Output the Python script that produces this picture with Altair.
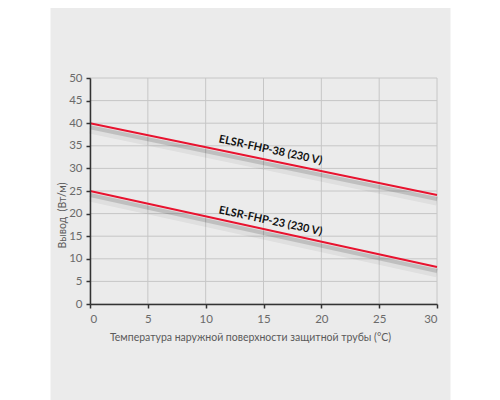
"""Heat output of ELSR-FHP cables vs pipe surface temperature."""

import altair as alt
import pandas as pd

# data
temperature = [0, 30]
output_38 = [40, 24.1]
output_23 = [25, 8.2]
series_names = ['ELSR-FHP-38 (230 V)', 'ELSR-FHP-23 (230 V)']
label_x = [15.6, 15.6]
label_y = [34.0, 18.3]
x_ticks = [0, 5, 10, 15, 20, 25, 30]
y_ticks = [0, 5, 10, 15, 20, 25, 30, 35, 40, 45, 50]

FONT = 'Lato'
RED = '#e8132f'

lines = pd.DataFrame({
    'temp': temperature * 2,
    'watts': output_38 + output_23,
    'series': [series_names[0]] * 2 + [series_names[1]] * 2,
})
labels = pd.DataFrame({'temp': label_x, 'watts': label_y, 'name': series_names})
grid_x = pd.DataFrame({'temp': x_ticks})
grid_y = pd.DataFrame({'watts': y_ticks})

x_scale = alt.Scale(domain=[0, 30], nice=False)
y_scale = alt.Scale(domain=[0, 50], nice=False)

x_axis = alt.Axis(values=x_ticks, zindex=1, grid=False, labelPadding=5,
                  title='Температура наружной поверхности защитной трубы (°C)',
                  titleX=160, titleY=33, titleBaseline='middle')
y_axis = alt.Axis(values=y_ticks, zindex=1, grid=False, labelPadding=4,
                  title='Вывод\u00a0 (Вт/м)',
                  titleY=137, titleX=-28, titleBaseline='middle')

X = alt.X('temp:Q', scale=x_scale, axis=x_axis)
Y = alt.Y('watts:Q', scale=y_scale, axis=y_axis)

panel = alt.Chart(pd.DataFrame({'a': [0]})).mark_rect(color='#ebebeb').encode(
    x=alt.value(-39.5), x2=alt.value(360.5),
    y=alt.value(-70), y2=alt.value(322)
)

vgrid = alt.Chart(grid_x).mark_rule(color='#c6c6c6', strokeWidth=1).encode(x=X)
hgrid = alt.Chart(grid_y).mark_rule(color='#c6c6c6', strokeWidth=1).encode(y=Y)

base = alt.Chart(lines).encode(x=X, y=Y, detail='series:N')

shadow_wide = base.mark_line(color='#000000', opacity=0.05, strokeWidth=9, yOffset=6)
shadow_narrow = base.mark_line(color='#000000', opacity=0.14, strokeWidth=4, yOffset=4)
red_lines = base.mark_line(color=RED, strokeWidth=2)

text = alt.Chart(labels).mark_text(
    font=FONT, fontWeight='bold', fontSize=11, angle=12,
    align='center', baseline='middle', color='#111111'
).encode(x=X, y=Y, text='name:N')

chart = alt.layer(
    panel, vgrid, hgrid, shadow_wide, shadow_narrow, red_lines, text
).properties(
    width=347, height=226,
    padding={'left': 42, 'top': 0, 'right': 0, 'bottom': 0}
).configure_axis(
    domainColor='#333333', domainWidth=1.5,
    tickColor='#333333', tickSize=4, tickWidth=1.5,
    labelFont=FONT, labelFontSize=11.5, labelColor='#6a6a6a',
    titleFont=FONT, titleFontSize=10.5, titleColor='#5a5a5a', titleFontWeight='normal'
).configure_view(
    stroke=None
)

chart.save('out.html', embed_options={'renderer': 'svg', 'actions': False})
